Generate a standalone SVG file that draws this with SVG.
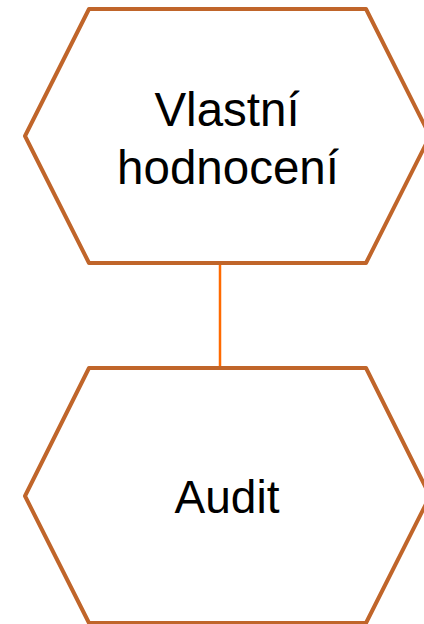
<svg xmlns="http://www.w3.org/2000/svg" width="424" height="624" viewBox="0 0 424 624">
  <style>
    .hex { fill: #ffffff; stroke: #C0652A; stroke-width: 4; stroke-linejoin: round; }
    .label { font-family: "Liberation Sans", Arial, sans-serif; font-size: 46px; fill: #000000; text-anchor: middle; }
    .big { font-size: 47.5px; }
    .link { stroke: #FF6A00; stroke-width: 2.5; fill: none; }
  </style>
  <rect width="424" height="624" fill="#ffffff"/>
  <g id="connectors">
    <line class="link" x1="220" y1="264" x2="220" y2="368"/>
  </g>
  <g id="node-vlastni-hodnoceni">
    <polygon class="hex" points="89,9 366,9 430,136 366,263 89,263 25,136"/>
    <text class="label big" x="227" y="126">Vlastní</text>
    <text class="label big" x="228" y="184">hodnocení</text>
  </g>
  <g id="node-audit">
    <polygon class="hex" points="89,368 366,368 430,496 366,623 89,623 25,496"/>
    <text class="label" x="227" y="513">Audit</text>
  </g>
</svg>
